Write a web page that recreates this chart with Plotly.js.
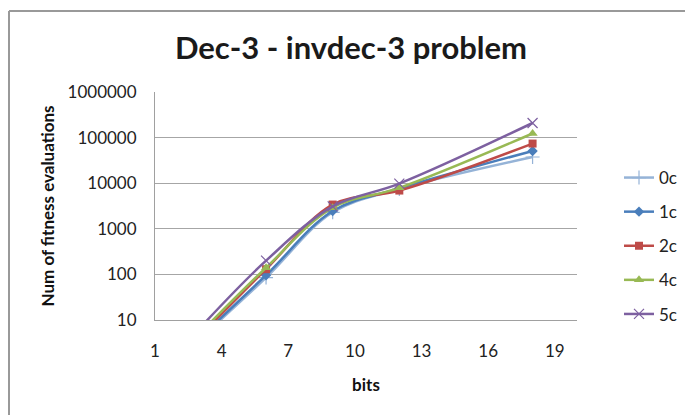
<!DOCTYPE html>
<html>
<head>
<meta charset="utf-8">
<script src="https://cdn.plot.ly/plotly-3.0.1.min.js"></script>
<style>
html,body{margin:0;padding:0;background:#fff;}
#chart{width:685px;height:415px;}
</style>
</head>
<body>
<div id="chart"></div>
<script>
// Data
const bits = [3, 6, 9, 12, 18];
const seriesNames = ["0c", "1c", "2c", "4c", "5c"];
const evals0c = [3.8, 85, 2300, 7500, 37500];
const evals1c = [4, 96, 2450, 7700, 51000];
const evals2c = [4.4, 130, 3400, 6900, 74000];
const evals4c = [5, 140, 2900, 7900, 123000];
const evals5c = [6.5, 200, 3100, 9800, 209000];
const yTickVals = [10, 100, 1000, 10000, 100000, 1000000];
const yTickText = ["10", "100", "1000", "10000", "100000", "1000000"];
const xTickVals = [1, 4, 7, 10, 13, 16, 19];

const colors = ["#95B3D7", "#4A7EBB", "#BE4B48", "#98B954", "#7D60A0"];
const symbols = ["cross-thin", "diamond", "square", "triangle-up", "x-thin"];
const sizes = [10, 8, 8, 9, 10];
const allVals = [evals0c, evals1c, evals2c, evals4c, evals5c];

const traces = allVals.map((vals, i) => ({
  type: "scatter",
  mode: "lines+markers",
  name: seriesNames[i],
  legendgroup: seriesNames[i],
  x: bits,
  y: vals,
  line: {color: colors[i], width: 2.5, shape: "spline", smoothing: 1.0},
  marker: {
    symbol: symbols[i],
    size: sizes[i],
    color: colors[i],
    line: {color: colors[i], width: (symbols[i].indexOf("thin") >= 0) ? 1.2 : 0}
  },
  cliponaxis: true
}));

const L = 155, R = 108, T = 92, B = 95;
const pw = 685 - L - R, ph = 415 - T - B;
const bx = (9 - L) / pw, by = (415 - B - 11) / ph;

const layout = {
  width: 685,
  height: 415,
  margin: {l: L, r: R, t: T, b: B, pad: 0, autoexpand: false},
  paper_bgcolor: "#ffffff",
  plot_bgcolor: "#ffffff",
  font: {family: "Lato, 'Liberation Sans', sans-serif", color: "#222"},
  title: {
    text: "<b>Dec-3 - invdec-3 problem</b>",
    font: {size: 31, color: "#1a1a1a", family: "Lato, sans-serif"},
    x: 351 / 685, xref: "container", xanchor: "center",
    y: 1 - 48/415, yref: "container", yanchor: "middle"
  },
  xaxis: {
    range: [1, 20],
    tickvals: xTickVals,
    ticktext: xTickVals.map(String),
    showgrid: false,
    zeroline: false,
    showline: true,
    linecolor: "#a0a0a0",
    linewidth: 1,
    ticks: "",
    ticklabelstandoff: 16,
    tickfont: {size: 17, color: "#222"},
    title: {text: "<b>bits</b>", font: {size: 17, color: "#111"}, standoff: 18}
  },
  yaxis: {
    type: "log",
    range: [1, 6],
    tickvals: yTickVals,
    ticktext: yTickText,
    showgrid: true,
    gridcolor: "#a6a6a6",
    gridwidth: 1,
    zeroline: false,
    showline: true,
    linecolor: "#a0a0a0",
    linewidth: 1,
    ticks: "",
    ticklabelstandoff: 14,
    tickfont: {size: 17, color: "#222"},
    title: {text: "<b>Num of fitness evaluations</b>", font: {size: 17, color: "#111"}, standoff: 8}
  },
  legend: {
    x: (619 - L) / pw,
    xanchor: "left",
    y: (415 - B - 160) / ph,
    yanchor: "top",
    font: {size: 17, color: "#222"},
    tracegroupgap: 9,
    itemwidth: 30,
    bgcolor: "rgba(0,0,0,0)"
  },
  shapes: [
    {type: "line", xref: "paper", yref: "paper", x0: bx, x1: bx, y0: -1, y1: by,
     line: {color: "#999", width: 2}},
    {type: "line", xref: "paper", yref: "paper", x0: bx, x1: 1.5, y0: by, y1: by,
     line: {color: "#999", width: 2}}
  ],
  showlegend: true
};

Plotly.newPlot("chart", traces, layout, {displayModeBar: false, staticPlot: true});
</script>
</body>
</html>
